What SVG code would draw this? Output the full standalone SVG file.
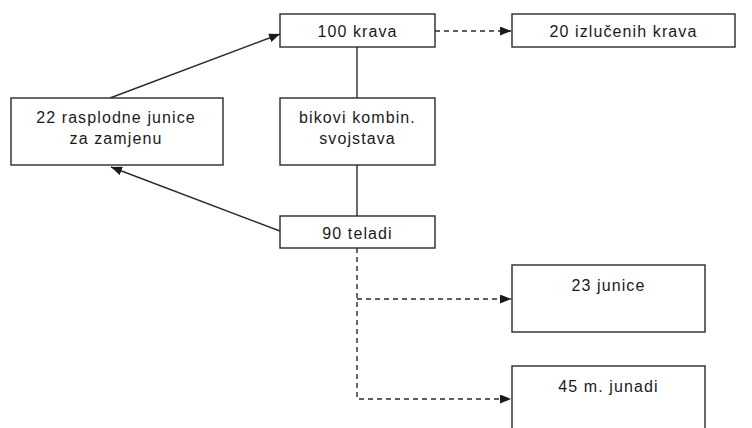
<svg xmlns="http://www.w3.org/2000/svg" width="752" height="428" viewBox="0 0 752 428">
<style>
.box{fill:#fff;stroke:#2a2a2a;stroke-width:1.4}
.t{font-family:"Liberation Sans",Arial,sans-serif;font-size:16px;letter-spacing:1.1px;fill:#1a1a1a;text-anchor:middle}
.c{fill:none;stroke:#2a2a2a;stroke-width:1.4}
.d{stroke-dasharray:5,4}
</style>
<defs>
<marker id="ah" viewBox="0 0 11 9" refX="11" refY="4.5" markerWidth="11" markerHeight="9" markerUnits="userSpaceOnUse" orient="auto">
<path d="M0,0 L11,4.5 L0,9 Z" fill="#1a1a1a"/>
</marker>
</defs>
<rect width="752" height="428" fill="#fff"/>
<g id="connectors">
<line class="c" x1="110" y1="98" x2="280" y2="34" marker-end="url(#ah)"/>
<line class="c" x1="280" y1="231" x2="111" y2="167" marker-end="url(#ah)"/>
<line class="c" x1="357" y1="47" x2="357" y2="98"/>
<line class="c" x1="357" y1="165" x2="357" y2="216"/>
<line class="c d" x1="435" y1="31" x2="511" y2="31" marker-end="url(#ah)"/>
<polyline class="c d" points="357,248 357,399 511,399" marker-end="url(#ah)"/>
<line class="c d" x1="357" y1="299" x2="511" y2="299" marker-end="url(#ah)"/>
</g>
<g id="n100krava">
<rect class="box" x="280" y="14" width="155" height="33"/>
<text class="t" x="357.5" y="37">100 krava</text>
</g>
<g id="n20izlucenih">
<rect class="box" x="512" y="14" width="223" height="33"/>
<text class="t" x="623.5" y="37">20 izlučenih krava</text>
</g>
<g id="n22rasplodne">
<rect class="box" x="11" y="98" width="212" height="67"/>
<text class="t" x="116" y="123">22 rasplodne junice</text>
<text class="t" x="116" y="144">za zamjenu</text>
</g>
<g id="nbikovi">
<rect class="box" x="280" y="98" width="155" height="67"/>
<text class="t" x="357.5" y="123">bikovi kombin.</text>
<text class="t" x="357.5" y="144">svojstava</text>
</g>
<g id="n90teladi">
<rect class="box" x="280" y="216" width="155" height="32"/>
<text class="t" x="357.5" y="239">90 teladi</text>
</g>
<g id="n23junice">
<rect class="box" x="512" y="265" width="193" height="67"/>
<text class="t" x="608.5" y="291">23 junice</text>
</g>
<g id="n45junadi">
<rect class="box" x="512" y="366" width="193" height="67"/>
<text class="t" x="608.5" y="392">45 m. junadi</text>
</g>
</svg>
